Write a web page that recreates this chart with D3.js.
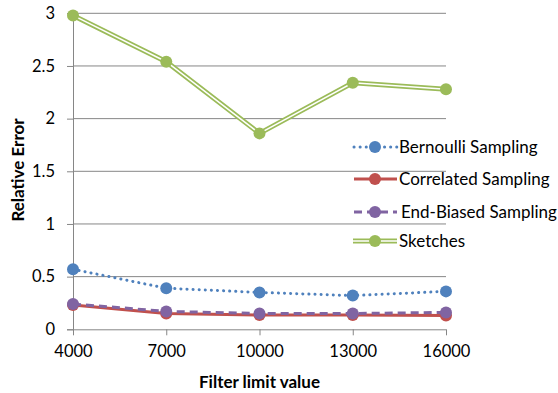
<!DOCTYPE html>
<html lang="en">
<head>
<meta charset="UTF-8">
<title>Relative Error</title>
<script src="https://d3js.org/d3.v7.min.js"></script>
<style>
  body { margin: 0; background: #fff; }
  text { font-family: Lato, "Open Sans", sans-serif; fill: #000; }
</style>
</head>
<body>
<svg id="chart" width="558" height="393"></svg>
<script>
const limits = [4000, 7000, 10000, 13000, 16000];
const yTicks = [0, 0.5, 1, 1.5, 2, 2.5, 3];
const bernoulli = [0.57, 0.39, 0.35, 0.32, 0.36];
const correlated = [0.23, 0.15, 0.135, 0.135, 0.13];
const endBiased = [0.24, 0.17, 0.15, 0.15, 0.16];
const sketches = [2.98, 2.54, 1.86, 2.34, 2.28];

const series = [
  { name: 'Bernoulli Sampling', values: bernoulli, color: '#4f81bd', dash: '0.1 6', double: false },
  { name: 'Correlated Sampling', values: correlated, color: '#c0504d', dash: null, double: false },
  { name: 'End-Biased Sampling', values: endBiased, color: '#8064a2', dash: '8 5', double: false },
  { name: 'Sketches', values: sketches, color: '#9bbb59', dash: null, double: true }
];

const svg = d3.select('#chart');
const x = d3.scalePoint().domain(limits).range([73, 446]);
const y = d3.scaleLinear().domain([0, 3]).range([329.3, 13.3]);

// gridlines
svg.append('g').selectAll('line').data(yTicks.slice(1)).join('line')
  .attr('x1', 73).attr('x2', 446)
  .attr('y1', d => y(d)).attr('y2', d => y(d))
  .attr('stroke', '#868686').attr('stroke-width', 1);

const yAxis = svg.append('g').attr('transform', 'translate(73,0)')
  .call(d3.axisLeft(y).tickValues(yTicks).tickSize(6).tickPadding(12).tickFormat(d3.format('')));
const xAxis = svg.append('g').attr('transform', 'translate(0,329.3)')
  .call(d3.axisBottom(x).tickSize(6).tickPadding(10).tickFormat(d => d));
[yAxis, xAxis].forEach(g => {
  g.select('.domain').attr('stroke', '#868686');
  g.selectAll('.tick line').attr('stroke', '#868686');
  g.selectAll('.tick text').style('font-size', '16.5px').style('font-family', 'Lato, sans-serif').attr('fill', '#000');
});
xAxis.select('.domain').attr('d', 'M73,0.5H446');

const line = d3.line().x((d, i) => x(limits[i])).y(d => y(d));

series.forEach(s => {
  const g = svg.append('g');
  if (s.double) {
    g.append('path').attr('d', line(s.values)).attr('fill', 'none')
      .attr('stroke', s.color).attr('stroke-width', 5);
    g.append('path').attr('d', line(s.values)).attr('fill', 'none')
      .attr('stroke', '#fff').attr('stroke-width', 1.5);
  } else {
    g.append('path').attr('d', line(s.values)).attr('fill', 'none')
      .attr('stroke', s.color).attr('stroke-width', 3)
      .attr('stroke-linecap', s.dash && s.dash.startsWith('0.1') ? 'round' : 'butt')
      .attr('stroke-dasharray', s.dash);
  }
  g.selectAll('circle').data(s.values).join('circle')
    .attr('cx', (d, i) => x(limits[i])).attr('cy', d => y(d))
    .attr('r', 6).attr('fill', s.color);
});

// legend
const legendY = [147, 179, 212, 241];
const leg = svg.append('g');
series.forEach((s, i) => {
  const g = leg.append('g').attr('transform', `translate(0,${legendY[i]})`);
  if (s.double) {
    g.append('line').attr('x1', 353).attr('x2', 397).attr('stroke', s.color).attr('stroke-width', 5);
    g.append('line').attr('x1', 353).attr('x2', 397).attr('stroke', '#fff').attr('stroke-width', 1.5);
  } else {
    g.append('line').attr('x1', 354).attr('x2', 397).attr('stroke', s.color).attr('stroke-width', 3)
      .attr('stroke-linecap', s.dash && s.dash.startsWith('0.1') ? 'round' : 'butt')
      .attr('stroke-dasharray', s.dash);
  }
  g.append('circle').attr('cx', 375).attr('r', 6).attr('fill', s.color);
  g.append('text').attr('x', i === 2 ? 401 : 399).attr('dy', '0.35em')
    .style('font-size', '17px').text(s.name);
});

svg.append('text').attr('x', 259.5).attr('y', 388).attr('text-anchor', 'middle')
  .style('font-size', '17px').style('font-weight', 'bold').text('Filter limit value');
svg.append('text').attr('transform', 'translate(24,170) rotate(-90)').attr('text-anchor', 'middle')
  .style('font-size', '17px').style('font-weight', 'bold').text('Relative Error');
</script>
</body>
</html>
